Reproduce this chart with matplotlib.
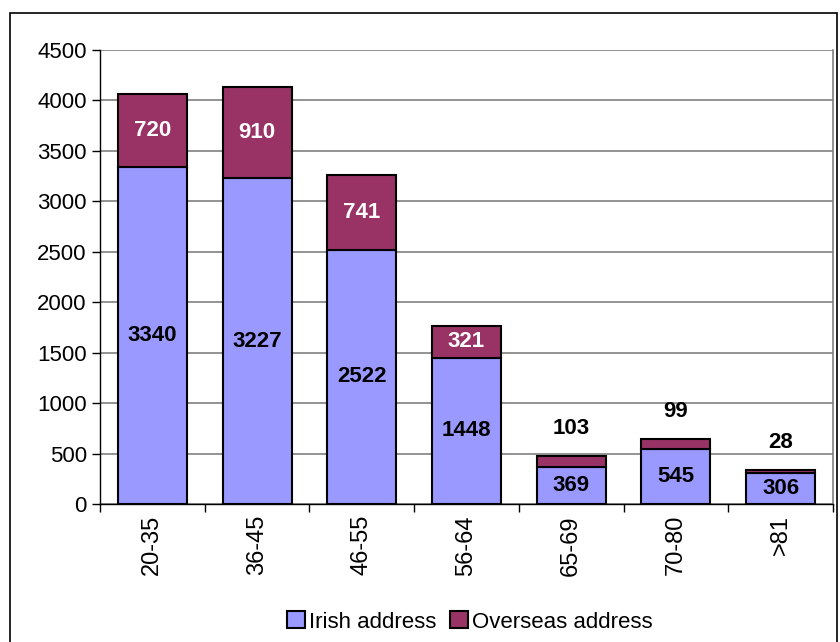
import matplotlib
matplotlib.use('Agg')
import matplotlib.pyplot as plt
from matplotlib.patches import Rectangle

plt.rcParams['font.family'] = ['Liberation Sans', 'DejaVu Sans']

# data
age_groups = ['20-35', '36-45', '46-55', '56-64', '65-69', '70-80', '>81']
irish = [3340, 3227, 2522, 1448, 369, 545, 306]
overseas = [720, 910, 741, 321, 103, 99, 28]

blue = '#9999FF'
maroon = '#993366'

fig = plt.figure(figsize=(8.4, 6.42), dpi=100)
ax = fig.add_axes([100 / 840, 1 - 504 / 642, 733 / 840, 454 / 642])

x = range(len(age_groups))
width = 0.66
ax.bar(x, irish, width, color=blue, edgecolor='black', linewidth=1.5,
       label='Irish address', zorder=3)
ax.bar(x, overseas, width, bottom=irish, color=maroon, edgecolor='black',
       linewidth=1.5, label='Overseas address', zorder=3)

# value labels
for i in x:
    ax.text(i, irish[i] / 2, str(irish[i]), ha='center', va='center',
            fontsize=16, fontweight='bold', color='black', zorder=4)
    top = irish[i] + overseas[i]
    if overseas[i] > 200:
        ax.text(i, irish[i] + overseas[i] / 2, str(overseas[i]), ha='center',
                va='center', fontsize=16, fontweight='bold', color='white', zorder=4)
    else:
        ax.annotate(str(overseas[i]), (i, top), xytext=(0, 20),
                    textcoords='offset points', ha='center', va='center',
                    fontsize=16, fontweight='bold', color='black', zorder=4)

ax.set_xlim(-0.5, len(age_groups) - 0.5)
ax.set_ylim(0, 4500)
ax.set_yticks(range(0, 4501, 500))
ax.yaxis.grid(True, color='#808080', linewidth=1.2, zorder=0)
ax.set_xticks([i - 0.5 for i in range(len(age_groups) + 1)], minor=False)
ax.set_xticklabels([])
ax.set_xticks(list(x), minor=True)
ax.set_xticklabels(age_groups, minor=True, rotation=90, fontsize=17, va='top')
ax.tick_params(axis='x', which='minor', length=0, pad=8)
ax.tick_params(axis='x', which='major', length=6, width=1, direction='out')
ax.tick_params(axis='y', length=6, width=1, direction='out', labelsize=16)

for s in ['top', 'right']:
    ax.spines[s].set_visible(False)
ax.spines['left'].set_linewidth(1)
ax.spines['bottom'].set_linewidth(1)
ax.plot([1, 1], [0, 1], transform=ax.transAxes, color='#808080', lw=1.2,
        clip_on=False, zorder=1)

ax.legend(loc='center', bbox_to_anchor=(470 / 840, 1 - 622 / 642),
          bbox_transform=fig.transFigure, ncol=2, frameon=False, fontsize=16,
          handlelength=0.8, handleheight=0.8, handletextpad=0.2,
          columnspacing=0.6)

# outer frame
fig.patches.append(Rectangle((10 / 840, -0.05), 827 / 840, 1 - 13 / 642 + 0.05,
                             transform=fig.transFigure, fill=False,
                             edgecolor='black', linewidth=1.2))

plt.savefig('out.png', dpi=100)
